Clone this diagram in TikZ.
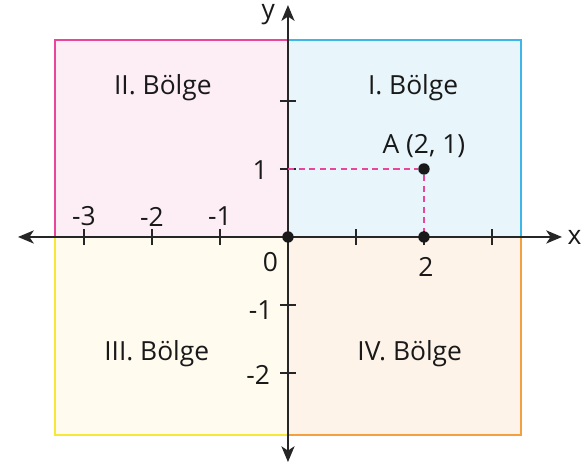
\documentclass[tikz,border=0pt]{standalone}
\usepackage{fontspec}
\setmainfont{Open Sans}
\usepackage{xcolor}
\usetikzlibrary{arrows.meta,positioning}

\definecolor{pinkline}{HTML}{E8459B}
\definecolor{pinkfill}{HTML}{FDEEF5}
\definecolor{blueline}{HTML}{3DB6E8}
\definecolor{bluefill}{HTML}{E8F6FC}
\definecolor{yellowline}{HTML}{F9E737}
\definecolor{yellowfill}{HTML}{FFFCEF}
\definecolor{orangeline}{HTML}{F5A040}
\definecolor{orangefill}{HTML}{FDF3E8}

\begin{document}
\begin{tikzpicture}[
    x=1.36cm, y=1.36cm,
    font=\fontsize{15}{18}\selectfont,
    quad1/.style={draw=blueline, fill=bluefill, line width=1pt},
    quad2/.style={draw=pinkline, fill=pinkfill, line width=1pt},
    quad3/.style={draw=yellowline, fill=yellowfill, line width=1pt},
    quad4/.style={draw=orangeline, fill=orangefill, line width=1pt},
    axis/.style={{Stealth[length=9pt, width=7.5pt, inset=2.5pt]}-{Stealth[length=9pt, width=7.5pt, inset=2.5pt]}, line width=0.9pt, draw=black!85},
    tick/.style={line width=0.7pt, draw=black!85},
    dot/.style={circle, fill=black!90, inner sep=0pt, minimum size=6.5pt},
    guide/.style={draw=pinkline, line width=0.9pt, dash pattern=on 3.5pt off 2.5pt},
    lbl/.style={inner sep=1pt, text=black!90}
]
    \useasboundingbox (-4.235,-3.353) rectangle (4.368,3.485);

    \filldraw [quad2] (-3.43,0) rectangle (0,2.9);
    \filldraw [quad1] (0,0) rectangle (3.43,2.9);
    \filldraw [quad3] (-3.43,-2.91) rectangle (0,0);
    \filldraw [quad4] (0,-2.91) rectangle (3.43,0);

    \node [lbl] (q1) at (1.84,2.19) {I. Bölge};
    \node [lbl] (q2) at (-1.84,2.19) {II. Bölge};
    \node [lbl] (q3) at (-1.93,-1.71) {III. Bölge};
    \node [lbl] (q4) at (1.79,-1.71) {IV. Bölge};

    \coordinate (xl) at (-3.97,0);
    \coordinate (xr) at (4.03,0);
    \coordinate (yb) at (0,-3.31);
    \coordinate (yt) at (0,3.41);

    \foreach \i in {-3,-2,-1,1,2,3}
        \draw [tick] (\i,-0.12) -- (\i,0.12);
    \foreach \j in {-2,-1,1,2}
        \draw [tick] (-0.12,\j) -- (0.12,\j);

    \draw [axis] (xl) -- (xr);
    \draw [axis] (yb) -- (yt);

    \foreach \i in {-3,-2,-1}
        \node [lbl] (lx\i) at (\i,0.3) {\i};
    \node [lbl] (lx0) at (-0.26,-0.37) {0};
    \node [lbl] (lx2) at (2.03,-0.44) {2};
    \node [lbl] (ly1) at (-0.41,0.99) {1};
    \node [lbl] (lym1) at (-0.4,-1.08) {-1};
    \node [lbl] (lym2) at (-0.44,-2.03) {-2};
    \node [lbl, right=2pt of xr] (xlab) {x};
    \node [lbl] (ylab) at (-0.29,3.27) {y};

    \coordinate (y1) at (0,1);
    \node [dot] (O) at (0,0) {};
    \node [dot] (x2) at (2,0) {};
    \node [dot] (A) at (2,1) {};
    \node [lbl, above=1.5pt of A] (Alab) {A (2, 1)};

    \draw [guide] (y1) -- (A);
    \draw [guide] (A) -- (x2);
\end{tikzpicture}
\end{document}
